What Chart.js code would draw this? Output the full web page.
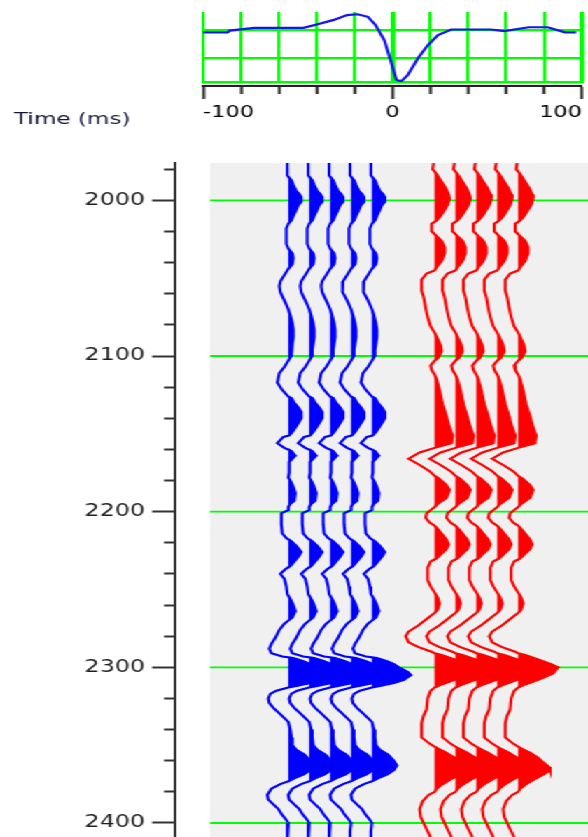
<!DOCTYPE html>
<html>
<head>
<meta charset="utf-8">
<title>Wavelet and traces</title>
<script src="https://cdn.jsdelivr.net/npm/chart.js@4.4.1/dist/chart.umd.min.js"></script>
<style>
    html, body { margin: 0; padding: 0; background: #fff; overflow: hidden; }
    #stage { position: relative; width: 420px; height: 837px; transform: scaleX(1.4); transform-origin: 0 0; }
    #stage canvas { position: absolute; left: 0; top: 0; }
</style>
</head>
<body>
<div id="stage">
    <canvas id="traces" width="420" height="837"></canvas>
    <canvas id="wavelet" width="420" height="130"></canvas>
</div>
<script>
// time axis (ms)
const timeTicks = [1980, 2000, 2020, 2040, 2060, 2080, 2100, 2120, 2140, 2160, 2180, 2200,
    2220, 2240, 2260, 2280, 2300, 2320, 2340, 2360, 2380, 2400];
const timeLabels = [2000, 2100, 2200, 2300, 2400];

// wavelet panel
const lagTicks = [-100, -80, -60, -40, -20, 0, 20, 40, 60, 80, 100];
const lagLabels = [-100, 0, 100];
const ampGrid = [0, -0.5];
const waveLags = [-100, -87, -86, -73, -47, -40, -31, -24, -18.5, -13, -9, -4.3, -0.8, 2, 4.5, 8,
    13.4, 18.7, 24, 31, 52, 59, 72, 82, 91, 97];
const waveAmps = [-0.04, -0.04, -0.01, 0.04, 0.04, 0.10, 0.18, 0.265, 0.28, 0.235, 0.09, -0.18, -0.56,
    -0.88, -0.91, -0.80, -0.50, -0.265, -0.09, 0.01, 0.01, -0.02, 0.05, 0.05, -0.04, -0.04];

// trace numbers
const blueTraces = [0, 1, 2, 3, 4];
const redTraces = [7, 8, 9, 10, 11];

// [time ms, amplitude]
const blueTrace = [
    [1976, -1], [1984, -1], [1987, 3], [1990, 5], [1994, 8], [1996, 11], [1998, 13], [2001, 13],
    [2003, 10], [2006, 8], [2010, 5], [2013, 3], [2015, 0], [2018, -2], [2028, -2], [2031, 0],
    [2034, 4], [2037, 5], [2041, 4], [2044, 0], [2048, -4], [2052, -8], [2055, -9], [2059, -8],
    [2063, -5], [2067, -2], [2070, 0], [2074, 2], [2079, 4], [2083, 5], [2088, 5], [2092, 4],
    [2096, 3], [2100, 3], [2103, 0], [2107, -4], [2111, -9], [2117, -11], [2121, -7], [2124, -3],
    [2126, 0], [2127, 3], [2130, 6], [2133, 10], [2136, 13], [2140, 13], [2143, 10], [2148, 5],
    [2151, 1], [2152, -5], [2156, -11], [2159, -4], [2161, 3], [2164, 7], [2166, 4], [2168, 1],
    [2175, 1], [2178, 0], [2180, 2], [2184, 5], [2188, 7], [2193, 6], [2195, 2], [2197, 0],
    [2199, 0], [2201, -7], [2208, -7], [2214, -6], [2217, -2], [2219, 3], [2222, 8], [2226, 13],
    [2229, 10], [2232, 6], [2235, 2], [2237, -3], [2240, -8], [2243, -4], [2248, -2], [2253, -1],
    [2256, 2], [2260, 5], [2264, 7], [2268, 4], [2270, 0], [2272, -4], [2276, -9], [2281, -13],
    [2285, -17], [2288, -19], [2291, -17], [2293, -6], [2294, 5], [2296, 15], [2298, 22], [2300, 27],
    [2303, 36], [2305, 39], [2308, 32], [2310, 22], [2312, 8], [2313, 0], [2315, -12], [2317, -18],
    [2320, -20], [2323, -19], [2326, -15], [2329, -10], [2332, -5], [2335, 0], [2340, 2], [2345, 3],
    [2350, 4], [2353, 8], [2356, 16], [2360, 22], [2363, 25], [2366, 22], [2369, 15], [2371, 7],
    [2373, 1], [2375, -8], [2378, -17], [2382, -21], [2385, -20], [2388, -15], [2391, -10], [2394, -7],
    [2398, -2], [2400, 0], [2405, -1], [2412, -1]
];
const redTrace = [
    [1976, -1], [1980, -2], [1983, 2], [1987, 6], [1992, 11], [1996, 14], [1999, 15], [2003, 13],
    [2006, 10], [2010, 6], [2013, 2], [2015, -3], [2020, -3], [2023, 2], [2026, 7], [2030, 10],
    [2034, 10], [2039, 7], [2043, 2], [2045, 0], [2047, -8], [2051, -13], [2058, -13], [2062, -11],
    [2069, -9], [2075, -7], [2081, -4], [2085, 0], [2089, 3], [2093, 6], [2097, 7], [2101, 4],
    [2103, 0], [2106, -4], [2109, -3], [2112, 0], [2115, 2], [2122, 5], [2131, 8], [2139, 12],
    [2146, 15], [2151, 18], [2156, 17], [2159, 0], [2162, -15], [2166, -26], [2170, -15], [2174, -5],
    [2177, 0], [2179, 5], [2183, 12], [2186, 15], [2191, 12], [2195, 3], [2197, 0], [2199, -4],
    [2201, -8], [2204, -9], [2207, -5], [2209, 0], [2211, 3], [2214, 7], [2218, 12], [2221, 14],
    [2224, 12], [2227, 7], [2230, 2], [2232, -4], [2236, -7], [2244, -7], [2248, -4], [2252, 0],
    [2255, 3], [2259, 5], [2263, 3], [2265, 0], [2268, -6], [2273, -16], [2277, -26], [2280, -29],
    [2284, -26], [2287, -16], [2290, -3], [2291, 0], [2292, 7], [2295, 20], [2298, 33], [2300, 40],
    [2304, 35], [2308, 20], [2311, 7], [2313, 0], [2315, -4], [2320, -7], [2327, -8], [2331, -11],
    [2336, -13], [2345, -13], [2349, -5], [2351, 0], [2352, 3], [2355, 12], [2358, 20], [2361, 25],
    [2364, 31], [2366, 32], [2369, 25], [2372, 16], [2375, 8], [2378, 2], [2380, 0], [2382, -6],
    [2386, -12], [2391, -15], [2396, -14], [2400, -11], [2404, -8], [2409, -4], [2412, -2]
];

const GAIN = 1 / 20.9;          // amplitude -> trace spacing
const PANEL_START = -3.75;      // left edge of the grey panel (trace units)
const FONT = 'DejaVu Sans';
const GREEN = '#00ff00';

const isMajorTime = (c) => c.tick && timeLabels.includes(c.tick.value);
const isMajorLag = (c) => c.tick && lagLabels.includes(c.tick.value);

function traceDatasets(trace, base, color) {
    return [
        {
            data: trace.map(([t, a]) => ({ x: base + Math.max(0, a) * GAIN, y: t })),
            borderColor: 'transparent',
            backgroundColor: color,
            fill: { value: base },
            pointRadius: 0,
        },
        {
            data: trace.map(([t, a]) => ({ x: base + a * GAIN, y: t })),
            borderColor: color,
            borderWidth: 2.1,
            fill: false,
            pointRadius: 0,
        },
    ];
}

const panelPlugin = {
    id: 'panel',
    beforeDatasetsDraw(chart) {
        const { ctx, chartArea, scales: { x, y } } = chart;
        const left = x.getPixelForValue(PANEL_START);
        ctx.save();
        ctx.fillStyle = '#f0f0f0';
        ctx.fillRect(left, chartArea.top, chartArea.right - left, chartArea.bottom - chartArea.top);
        ctx.strokeStyle = GREEN;
        ctx.lineWidth = 1.8;
        timeLabels.forEach((t) => {
            const py = y.getPixelForValue(t);
            ctx.beginPath();
            ctx.moveTo(left, py);
            ctx.lineTo(chartArea.right, py);
            ctx.stroke();
        });
        ctx.restore();
    },
};

const datasets = [
    ...blueTraces.flatMap((b) => traceDatasets(blueTrace, b, '#0000ff')),
    ...redTraces.flatMap((b) => traceDatasets(redTrace, b, '#ff0000')),
];

new Chart(document.getElementById('traces'), {
    type: 'line',
    data: { datasets },
    plugins: [panelPlugin],
    options: {
        responsive: false,
        animation: false,
        indexAxis: 'y',
        layout: { padding: { left: 10, right: 0, top: 0, bottom: 0 } },
        elements: { line: { tension: 0 } },
        plugins: {
            legend: { display: false },
            tooltip: { enabled: false },
            title: {
                display: true,
                text: 'Time (ms)',
                align: 'start',
                color: '#14143c',
                font: { family: FONT, size: 16.5, weight: 'normal' },
                padding: { top: 110, bottom: 33.2 },
            },
        },
        scales: {
            x: { type: 'linear', display: false, min: -5.42, max: 14.34 },
            y: {
                type: 'linear',
                reverse: true,
                min: 1976,
                max: 2409,
                afterBuildTicks: (s) => { s.ticks = timeTicks.map((v) => ({ value: v })); },
                afterFit: (s) => { s.width = 115; s.paddingTop = 0; s.paddingBottom = 0; },
                border: { color: '#333', width: 2 },
                grid: {
                    drawOnChartArea: false,
                    tickLength: 16.4,
                    tickWidth: 2,
                    tickColor: '#333',
                    tickBorderDash: (c) => (isMajorTime(c) ? [] : [7.9, 8.5]),
                    tickBorderDashOffset: (c) => (isMajorTime(c) ? 0 : 7.9),
                },
                ticks: {
                    autoSkip: false,
                    padding: 5,
                    color: '#1e1e1e',
                    font: { family: FONT, size: 17 },
                    callback: (v) => (timeLabels.includes(v) ? String(v) : ''),
                },
            },
        },
    },
});

new Chart(document.getElementById('wavelet'), {
    type: 'line',
    data: {
        datasets: [{
            data: waveLags.map((l, i) => ({ x: l, y: waveAmps[i] })),
            borderColor: '#1414f0',
            borderWidth: 2.2,
            pointRadius: 0,
            tension: 0,
        }],
    },
    options: {
        responsive: false,
        animation: false,
        layout: { padding: { left: 145, right: 4.3, top: 12, bottom: 0 } },
        plugins: { legend: { display: false }, tooltip: { enabled: false } },
        scales: {
            x: {
                type: 'linear',
                position: 'bottom',
                weight: 0,
                min: -100,
                max: 100,
                afterBuildTicks: (s) => { s.ticks = lagTicks.map((v) => ({ value: v })); },
                afterFit: (s) => { s.height = 4; s.paddingLeft = 0; s.paddingRight = 0; },
                grid: {
                    color: GREEN,
                    lineWidth: (c) => (c.tick && (c.tick.value === 0 || c.tick.value === 100) ? 3.5 : 2.2),
                    drawTicks: false,
                },
                border: { color: GREEN, width: 2.5 },
                ticks: { display: false },
            },
            x2: {
                type: 'linear',
                position: 'bottom',
                weight: 1,
                min: -100,
                max: 100,
                afterBuildTicks: (s) => { s.ticks = lagTicks.map((v) => ({ value: v })); },
                afterFit: (s) => { s.height = 44; s.paddingLeft = 0; s.paddingRight = 0; },
                grid: {
                    drawOnChartArea: false,
                    tickLength: 13,
                    tickWidth: 2,
                    tickColor: '#222',
                    tickBorderDash: (c) => (isMajorLag(c) ? [] : [7, 20]),
                },
                border: { color: '#222', width: 2 },
                ticks: {
                    autoSkip: false,
                    maxRotation: 0,
                    align: 'inner',
                    padding: 4,
                    color: '#000',
                    font: { family: FONT, size: 16 },
                    callback: (v) => (lagLabels.includes(v) ? String(v) : ''),
                },
            },
            y: {
                type: 'linear',
                min: -0.92,
                max: 0.32,
                afterBuildTicks: (s) => { s.ticks = ampGrid.map((v) => ({ value: v })); },
                afterFit: (s) => { s.width = 0; s.paddingTop = 0; s.paddingBottom = 0; },
                grid: { color: GREEN, lineWidth: 2.2, drawTicks: false },
                border: { display: false },
                ticks: { display: false },
            },
        },
    },
});
</script>
</body>
</html>
